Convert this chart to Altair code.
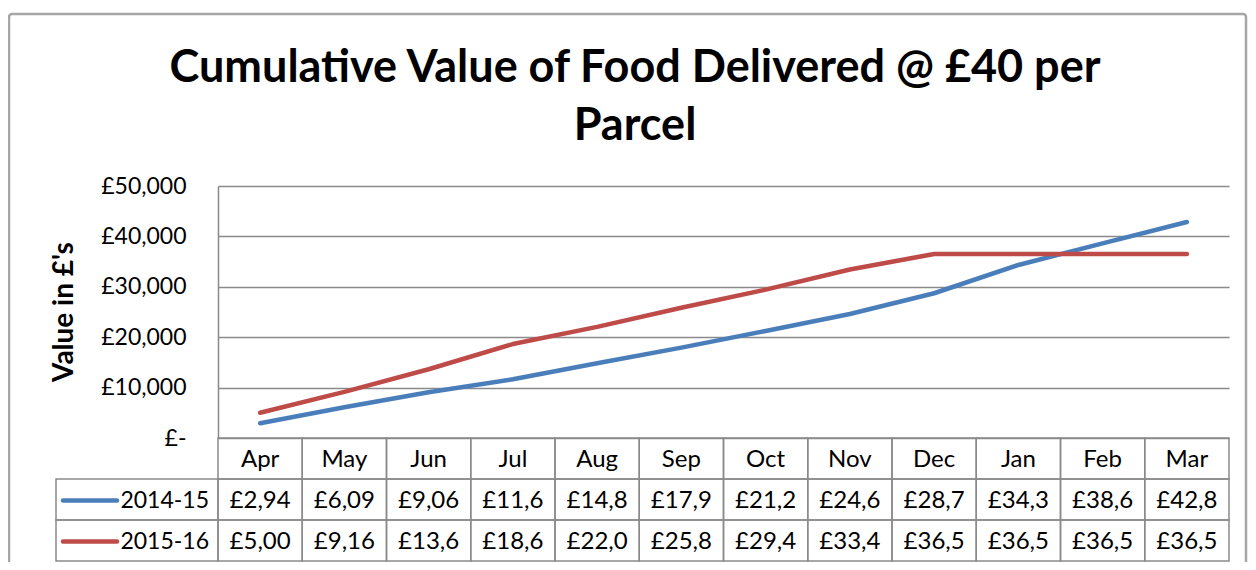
import altair as alt
import pandas as pd

# ---------------- data ----------------
months = ["Apr", "May", "Jun", "Jul", "Aug", "Sep", "Oct", "Nov", "Dec", "Jan", "Feb", "Mar"]
series_names = ["2014-15", "2015-16"]
values_2014_15 = [2940, 6090, 9060, 11650, 14820, 17930, 21240, 24610, 28720, 34330, 38620, 42850]
values_2015_16 = [5000, 9160, 13640, 18640, 22040, 25840, 29440, 33440, 36520, 36520, 36520, 36520]
y_ticks = [0, 10000, 20000, 30000, 40000, 50000]
title_lines = ["Cumulative Value of Food Delivered @ £40 per", "Parcel"]
y_title = "Value in £'s"
series_colors = ["#4A7EBB", "#BE4B48"]

series_values = [values_2014_15, values_2015_16]
rows = []
for s, vals in zip(series_names, series_values):
    for m, v in zip(months, vals):
        # the data table in the picture shows the value truncated to 5 characters
        rows.append({"month": m, "series": s, "value": v, "label": f"£{v:,}"[:5]})
df = pd.DataFrame(rows)
month_df = pd.DataFrame({"month": months})
one = pd.DataFrame({"a": [0]})

# ---------------- layout ----------------
W, H = 1011, 252
FONT = "Lato"
TITLE_FONT = "Lato"
GRID = "#8a8a8a"
row_tops = [252, 293, 334, 375]  # header, 2014-15, 2015-16, bottom

xscale = alt.Scale(type="band", domain=months, paddingInner=0, paddingOuter=0)
x_enc = alt.X("month:N", scale=xscale, axis=None)

label_expr = "datum.value == 0 ? '£-\u00a0\u00a0' : '£' + format(datum.value, ',')"

lines = alt.Chart(df).mark_line(strokeWidth=4.5, strokeCap="round", strokeJoin="round").encode(
    x=x_enc,
    y=alt.Y(
        "value:Q",
        scale=alt.Scale(domain=[0, 50000], nice=False),
        axis=alt.Axis(
            values=y_ticks, labelExpr=label_expr, title=None, ticks=False,
            labelFont=FONT, labelFontSize=23, labelColor="#000000", labelPadding=32,
            domainColor=GRID, domainWidth=1.5, gridColor=GRID, gridWidth=1.5,
        ),
    ),
    color=alt.Color("series:N", scale=alt.Scale(domain=series_names, range=series_colors), legend=None),
)

layers = []

# outer frame
layers.append(
    alt.Chart(one).mark_rect(fillOpacity=0, stroke="#a6a6a6", strokeWidth=2.5, cornerRadius=3).encode(
        x=alt.value(-209), x2=alt.value(1028), y=alt.value(-172), y2=alt.value(400)
    )
)

# title
for i, t in enumerate(title_lines):
    layers.append(
        alt.Chart(pd.DataFrame({"t": [t]})).mark_text(
            font=TITLE_FONT, fontWeight="bold", fontSize=45, align="center",
            baseline="alphabetic", color="#000000"
        ).encode(x=alt.value(417), y=alt.value([-104, -46][i]), text="t:N")
    )

# y title
layers.append(
    alt.Chart(pd.DataFrame({"t": [y_title]})).mark_text(
        font=TITLE_FONT, fontWeight="bold", fontSize=28, angle=270, align="center", baseline="middle", color="#000000"
    ).encode(x=alt.value(-153), y=alt.value(126), text="t:N")
)

# table cells under the plot (one rect per month and row)
for r in range(3):
    layers.append(
        alt.Chart(month_df).mark_rect(fillOpacity=0, stroke=GRID, strokeWidth=1.5).encode(
            x=x_enc, y=alt.value(row_tops[r]), y2=alt.value(row_tops[r + 1])
        )
    )
# left column cells
for r in range(1, 3):
    layers.append(
        alt.Chart(one).mark_rect(fillOpacity=0, stroke=GRID, strokeWidth=1.5).encode(
            x=alt.value(-162), x2=alt.value(0), y=alt.value(row_tops[r]), y2=alt.value(row_tops[r + 1])
        )
    )

# header text
layers.append(
    alt.Chart(month_df).mark_text(font=FONT, fontSize=24, baseline="middle", color="#000000").encode(
        x=x_enc, y=alt.value((row_tops[0] + row_tops[1]) / 2 + 1), text="month:N"
    )
)

for i, s in enumerate(series_names):
    yc = (row_tops[i + 1] + row_tops[i + 2]) / 2 + 1
    sub = df[df["series"] == s]
    layers.append(
        alt.Chart(sub).mark_text(font=FONT, fontSize=24, baseline="middle", color="#000000").encode(
            x=x_enc, y=alt.value(yc), text="label:N"
        )
    )
    key = pd.DataFrame({"series": [s]})
    layers.append(
        alt.Chart(key).mark_rule(strokeWidth=4.5, strokeCap="round").encode(
            x=alt.value(-155), x2=alt.value(-101), y=alt.value(yc),
            color=alt.Color("series:N", scale=alt.Scale(domain=series_names, range=series_colors), legend=None),
        )
    )
    layers.append(
        alt.Chart(key).mark_text(font=FONT, fontSize=23, align="right", baseline="middle", color="#000000").encode(
            x=alt.value(-9), y=alt.value(yc), text="series:N"
        )
    )

chart = alt.layer(*layers, lines).properties(
    width=W, height=H,
    autosize=alt.AutoSizeParams(type="none"),
    padding={"left": 210, "top": 178, "right": 19, "bottom": 124},
    background="white",
).configure_view(stroke="transparent")

chart.save("out.html", embed_options={"renderer": "svg", "actions": False})
